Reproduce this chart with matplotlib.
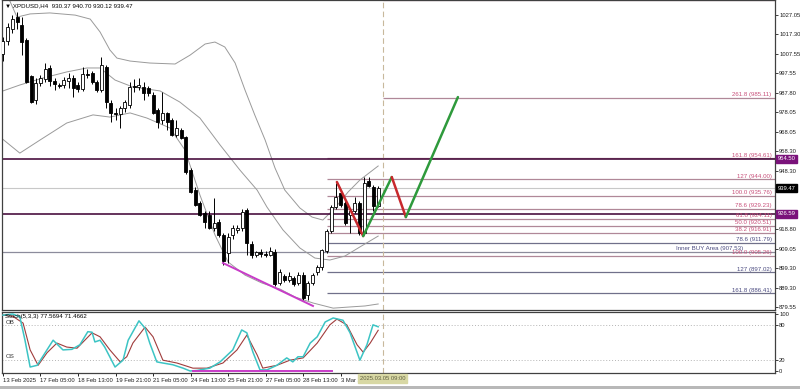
import matplotlib
matplotlib.use('Agg')
import matplotlib.pyplot as plt
import matplotlib.transforms as mtransforms
from matplotlib.patches import Rectangle

plt.rcParams['font.family'] = ['Liberation Sans Narrow', 'Liberation Sans', 'DejaVu Sans']

# ---------------- data ----------------
# H4 candles, bar 0 = 13 Feb 2025
opens = [1007.5, 1014, 1020, 1026, 1022, 1014.5, 996, 984, 992.5, 994.5,
         1000.5, 993.5, 991.5, 991.5, 993.5, 995, 991.5, 989.5, 997.5, 998,
         993, 989, 1001, 982.5, 977.5, 977, 980, 981.5, 991, 990.5,
         990.7, 990, 986.6, 979, 974, 977.5, 974, 966.5, 969, 965.4,
         948.8, 938.6, 932, 927, 926, 919.6, 922.5, 916, 907, 916,
         918.5, 919.6, 928.5, 911.5, 906, 907.5, 906.5, 906, 907.5, 891.7,
         895, 893, 894, 891.5, 895.7, 885.6, 891.7, 897, 899.8, 908,
         918, 930, 937, 932, 926, 928, 932, 917, 943, 940, 930.37]
highs = [1016, 1023, 1027, 1028.5, 1026, 1015.5, 997, 995, 997, 1003,
         1002, 995, 992.5, 995.5, 998, 997, 993, 1001, 1000, 999,
         994, 1006, 1002, 984, 980, 981, 984, 993, 994.7, 995,
         993, 991, 988, 980, 988, 978, 975, 974, 970, 966,
         950, 940, 933, 928, 928, 934.6, 924, 917, 917, 921,
         921, 929, 929.5, 913, 908, 909, 908, 910, 909, 899,
         896, 897, 895, 897, 897, 892.5, 896.5, 901, 909, 919,
         931, 942, 938, 933, 929, 935, 933, 945, 945, 941, 940.70]
lows = [1004, 1012, 1018, 1020, 1007, 992.5, 982.5, 982, 991, 993,
        991, 989, 990, 990, 990, 985.5, 988, 988.5, 995, 992,
        988, 988, 980, 973, 974, 970, 978, 980, 988, 989,
        984, 986, 977, 970, 972, 969, 966, 965.5, 964.5, 947,
        937, 930.5, 925.5, 919.6, 919, 918, 915, 901, 902, 914,
        917, 918, 906, 904.5, 905, 905, 905, 905.5, 890, 890.5,
        892, 892, 890, 890.5, 883, 883, 890.5, 895.5, 898.5, 907,
        917, 929, 930, 921, 917, 927, 916, 916, 940, 928, 930.12]
closes = [1014, 1021, 1025, 1023.5, 1013.5, 993, 983, 992.5, 995, 1000,
          993.5, 992, 991, 994, 995, 990, 989.5, 997.5, 997, 993,
          989, 1002, 983, 977.5, 977, 980, 983, 990.7, 990.5, 991.5,
          987.6, 987.5, 977.5, 973, 977.5, 973, 966.5, 970, 965, 947.7,
          937.6, 931, 926, 922.5, 919.6, 922, 916, 903, 915, 919.6,
          919.5, 927.5, 912, 906, 907.5, 906.5, 906, 908, 891, 897,
          893, 895, 891, 895.5, 884, 891.7, 895.7, 899.8, 908.4, 918,
          930, 935, 931, 922, 928, 932, 917, 942, 940.5, 930.4, 939.47]

# Bollinger bands (bar index, price)
bb_up_x = [1.1, 3.0, 5.8, 10.0, 15.4, 18.6, 20.7, 22.8, 24.3, 27.1, 31.3, 36.7, 39.9,
           43.1, 45.2, 47.3, 49.5, 51.6, 53.7, 55.9, 58.0, 60.1, 63.3, 65.9, 68.2,
           70.8, 73.6, 76.1, 80.0]
bb_up = [1036.1, 1026.0, 1027.6, 1028.1, 1027.0, 1025.0, 1018.5, 1009.4, 1005.3, 1003.8,
         1002.8, 1002.3, 1006.8, 1012.4, 1013.4, 1010.9, 1002.8, 989.2, 976.5, 963.9,
         949.8, 938.6, 929.6, 925.0, 923.5, 929.6, 937.7, 943.7, 950.8]
bb_mid_x = [-0.6, 3.6, 8.5, 13.6, 17.9, 20.7, 23.9, 27.7, 33.5, 37.7, 42.0, 46.3, 50.5,
            54.2, 56.3, 59.7, 63.3, 66.5, 69.7, 72.9, 76.1, 80.0]
bb_mid = [988.2, 991.7, 995.2, 998.3, 1000.3, 1000.3, 994.2, 990.7, 988.7, 983.1, 975.0,
          961.4, 948.8, 938.6, 930.0, 918.5, 909.4, 904.3, 903.3, 905.3, 909.9, 915.4]
bb_low_x = [-0.6, 3.6, 7.9, 13.6, 19.2, 22.8, 27.1, 30.7, 35.6, 38.8, 42.0, 45.2, 48.0,
            51.6, 55.2, 59.1, 62.3, 66.1, 70.4, 74.0, 77.2, 80.0]
bb_low = [965.4, 957.3, 963.9, 972.5, 976.6, 975.5, 977.6, 975.0, 970.0, 958.9, 936.1,
          916.0, 902.3, 895.7, 891.7, 888.6, 884.6, 881.6, 879.0, 879.6, 880.1, 881.1]

# Stochastic (5,3,3)
stoch_k_x = [0, 2.1, 3.6, 4.7, 5.8, 7.3, 8.3, 10.7, 12.8, 14.7, 16.4, 18.1, 19.0, 19.6,
             20.7, 21.7, 23.9, 25.6, 26.7, 29.0, 30.3, 31.3, 32.8, 34.1, 36.2, 38.4,
             39.9, 41.4, 44.1, 46.3, 49.0, 50.9, 52.0, 53.3, 54.8, 56.3, 58.4, 60.5,
             61.8, 62.9, 64.0, 65.5, 67.0, 68.7, 70.4, 72.5, 74.0, 76.1, 77.6, 78.9, 80.0]
stoch_k = [98, 100, 95, 54, 7, 10, 23, 54, 37, 38, 46, 69, 68, 51,
           54, 42, 7, 19, 54, 88, 75, 49, 16, 14, 11, 5,
           0, 1, 5, 16, 37, 72, 67, 33, 2, 2, 10, 23,
           16, 25, 25, 49, 60, 86, 93, 89, 67, 19, 46, 81, 77.57]
stoch_d_x = [0, 2.1, 4.3, 5.8, 7.5, 9.4, 11.5, 13.6, 15.8, 19.0, 20.7, 22.8, 25.0, 26.4,
             27.7, 30.3, 32.0, 34.1, 37.1, 40.5, 43.5, 46.9, 49.9, 52.0, 54.2, 55.4,
             58.4, 61.2, 64.0, 67.0, 69.7, 71.2, 73.3, 75.5, 76.8, 78.3, 80.0]
stoch_d = [98, 96, 84, 37, 10, 32, 49, 42, 40, 67, 60, 37, 16, 25,
           49, 77, 60, 19, 14, 5, 5, 14, 37, 63, 28, 5,
           10, 19, 23, 49, 81, 91, 81, 46, 33, 49, 71.47]

# levels: (price, label, colour, first bar)
level_prices = [1034.46, 985.11, 954.61, 944.00, 935.76, 929.23, 924.11, 920.51, 916.91,
                911.79, 905.26, 897.02, 886.41]
level_labels = ['423.6 (1034.46)', '261.8 (985.11)', '161.8 (954.61)', '127 (944.00)',
                '100.0 (935.76)', '78.6 (929.23)', '61.8 (924.11)', '50.0 (920.51)',
                '38.2 (916.91)', '78.6 (911.79)', '100.0 (905.26)', '127 (897.02)',
                '161.8 (886.41)']
level_colors = ['#c8507a', '#c8507a', '#c8507a', '#c8507a', '#c8507a', '#c8507a',
                '#c8507a', '#c8507a', '#c8507a', '#4a4a80', '#c8507a', '#4a4a80', '#4a4a80']
level_start = [81, 81, 69.1, 69.1, 69.1, 69.1, 69.1, 69.1, 69.1, 69.1, 69.1, 69.1, 69.1]

inner_buy = 907.53
hline_purple = [954.50, 926.59]
last_price = 939.47

# projected zig-zag (bar index, price)
zz_x = [71.2, 76.8, 82.9, 85.9, 97.0]
zz_y = [942.7, 915.4, 945.2, 925.0, 985.6]
div_x = [46.9, 66.1]
div_y = [901.8, 880.1]
stoch_div_x = [40.5, 70.2]
stoch_div_y = [0.8, 0.8]

yticks = [1027.05, 1017.30, 1007.55, 997.55, 987.80, 978.05, 968.05, 958.30, 948.30,
          918.80, 909.05, 899.30, 889.30, 879.55]
time_ticks = [0, 8, 16, 24, 32, 40, 48, 56, 64, 72]
time_labels = ['13 Feb 2025', '17 Feb 05:00', '18 Feb 13:00', '19 Feb 21:00', '21 Feb 05:00',
               '24 Feb 13:00', '25 Feb 21:00', '27 Feb 05:00', '28 Feb 13:00', '3 Mar 2025']
now_bar = 81

# ---------------- figure ----------------
W, H = 800, 389
fig = plt.figure(figsize=(W / 100, H / 100), dpi=100)


def box(l, t, r, b):
    return [l / W, 1 - b / H, (r - l) / W, (b - t) / H]


ax = fig.add_axes(box(2, 0, 775, 310))
ax2 = fig.add_axes(box(2, 312, 775, 373))
fs = 4.4
frame = '#404040'

for a in (ax, ax2):
    a.set_xlim(-0.2, 164.6)
    for s in a.spines.values():
        s.set_color(frame)
        s.set_linewidth(0.9)
    a.yaxis.tick_right()
    a.tick_params(axis='y', length=2, width=0.6, labelsize=4.2, pad=1, colors='#202020')
ax.set_ylim(878.06, 1034.63)
ax2.set_ylim(-3.5, 103.5)
ax.set_xticks([])

# candles
for i in range(len(opens)):
    o, h, l, c = opens[i], highs[i], lows[i], closes[i]
    ax.vlines(i, l, h, color='black', lw=0.7, zorder=4)
    bot = min(o, c)
    ht = max(abs(c - o), 0.3)
    ax.add_patch(Rectangle((i - 0.32, bot), 0.64, ht, facecolor='white' if c >= o else 'black',
                           edgecolor='black', lw=0.6, zorder=5))

# bands
for bx, by in ((bb_up_x, bb_up), (bb_mid_x, bb_mid), (bb_low_x, bb_low)):
    ax.plot(bx, by, color='#9a9a9a', lw=0.7, zorder=2)

# horizontal levels
ax.axhline(last_price, color='#c8c8c8', lw=0.8, zorder=1)
ax.axhline(inner_buy, color='#8c8c9c', lw=0.9, zorder=1)
for p in hline_purple:
    ax.axhline(p, color='#4a1040', lw=1.2, zorder=2)
for p, lab, col, st in zip(level_prices, level_labels, level_colors, level_start):
    lc = '#b08898' if col == '#c8507a' else '#70708a'
    ax.hlines(p, st, 164.6, color=lc, lw=0.9, zorder=1)
    ax.text(163.9, p + 0.4, lab, ha='right', va='bottom', fontsize=fs, color=col,
            zorder=6, clip_on=True)
ax.text(157.8, inner_buy + 0.5, 'Inner BUY Area (907.53)', ha='right', va='bottom',
        fontsize=fs, color='#4a4a80', zorder=6)

# zig-zag projection
for k in range(len(zz_x) - 1):
    col = '#c8282c' if zz_y[k + 1] < zz_y[k] else '#2e9a3c'
    ax.plot(zz_x[k:k + 2], zz_y[k:k + 2], color=col, lw=1.8, zorder=7,
            solid_capstyle='round')
ax.plot(div_x, div_y, color='#c83cc8', lw=1.4, zorder=7)

# vertical "now" line
for a in (ax, ax2):
    a.axvline(now_bar, color='#c8b89c', lw=0.8, ls=(0, (5, 3)), zorder=1)

# price axis
ax.set_yticks(yticks)
ax.set_yticklabels(['%.2f' % v for v in yticks])
trans = mtransforms.blended_transform_factory(ax.transAxes, ax.transData)
for p, lab, fc in ((954.50, '954.50', '#7a127a'), (last_price, '939.47', 'black'),
                   (926.59, '926.59', '#7a127a')):
    ax.text(1.003, p, lab, transform=trans, ha='left', va='center', fontsize=4.2,
            color='white', clip_on=False, zorder=8,
            bbox=dict(boxstyle='square,pad=0.25', fc=fc, ec=fc))

ax.text(0.004, 0.988, '\u25bc XPDUSD,H4  930.37 940.70 930.12 939.47', transform=ax.transAxes,
        fontsize=fs, va='top', ha='left', color='black')

# stochastic
ax2.plot(stoch_d_x, stoch_d, color='#a03c3c', lw=0.8, zorder=3)
ax2.plot(stoch_k_x, stoch_k, color='#3cc4c4', lw=1.1, zorder=4)
ax2.plot(stoch_div_x, stoch_div_y, color='#c83cc8', lw=1.4, zorder=5)
for lv in (80, 20):
    ax2.axhline(lv, color='#b4b4b4', lw=0.7, ls=(0, (1, 2)), zorder=1)
ax2.set_yticks([100, 80, 20, 0])
ax2.set_yticklabels(['100', '80', '20', '0'])
ax2.text(0.004, 0.97, 'Stoch(5,3,3) 77.5694 71.4662', transform=ax2.transAxes, fontsize=fs,
         va='top', ha='left', color='black', zorder=6)
ax2.text(0.5, 81, 'OB', fontsize=fs, va='bottom', ha='left', color='#303030')
ax2.text(0.5, 21, 'OS', fontsize=fs, va='bottom', ha='left', color='#303030')

ax2.set_xticks(time_ticks)
ax2.set_xticklabels(time_labels, fontsize=4.2, color='#202020')
ax2.tick_params(axis='x', length=2, width=0.6, pad=1.5)
for t in ax2.get_xticklabels():
    t.set_ha('left')
ax2.text(now_bar, -13, '2025.03.05 09:00', ha='center', va='center', fontsize=4.2,
         color='#606040', clip_on=False, zorder=8,
         bbox=dict(boxstyle='square,pad=0.3', fc='#d8d8a4', ec='#d8d8a4'))

fig.patches.append(Rectangle((0, 0), 1, 3 / H, transform=fig.transFigure,
                             fc='#b8b8b8', ec='none'))

fig.savefig('out.png', dpi=100)
